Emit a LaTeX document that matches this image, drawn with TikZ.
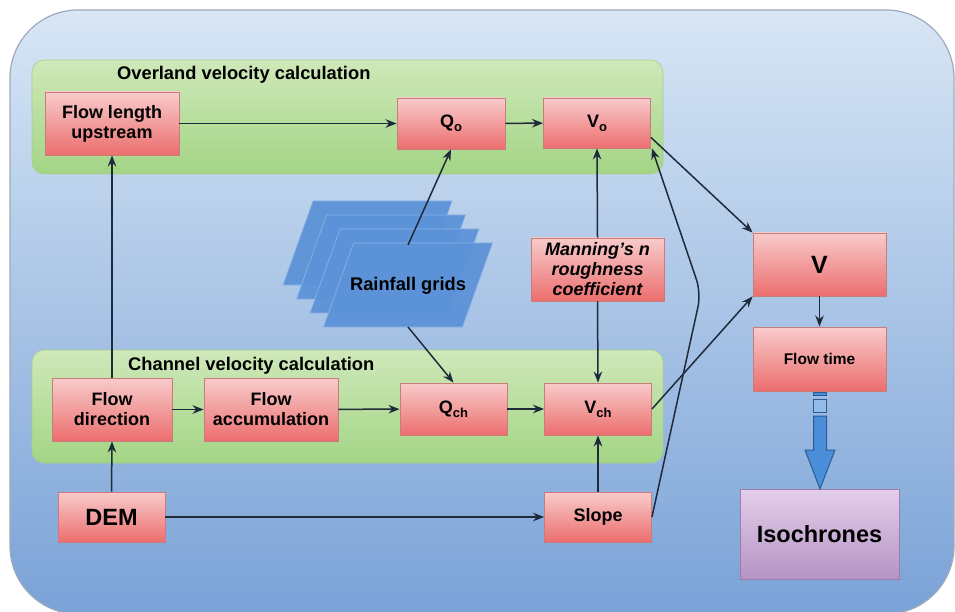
\documentclass[tikz,border=0pt]{standalone}
\usepackage{fontspec}
\setmainfont{Liberation Sans}
\usetikzlibrary{arrows.meta}
\definecolor{bgtop}{HTML}{D8E6F5}
\definecolor{bgbot}{HTML}{7AA2D7}
\definecolor{bgline}{HTML}{9DAABB}
\definecolor{grtop}{HTML}{CFE8B9}
\definecolor{grbot}{HTML}{A3D585}
\definecolor{grline}{HTML}{A5CF8C}
\definecolor{rdtop}{HTML}{F8CBCB}
\definecolor{rdbot}{HTML}{EC6E6E}
\definecolor{rdline}{HTML}{C97C7C}
\definecolor{pptop}{HTML}{E4CFEA}
\definecolor{ppbot}{HTML}{B593C4}
\definecolor{ppline}{HTML}{9E7DAC}
\definecolor{sheet}{HTML}{5C93D8}
\definecolor{sheetline}{HTML}{8AB2E4}
\definecolor{arrc}{HTML}{1F2A3B}
\definecolor{blk}{HTML}{4A8DD8}
\definecolor{blkline}{HTML}{2C5C94}
\newcommand{\mysub}[1]{\raisebox{-0.4ex}{\fontsize{13}{13}\selectfont #1}}
\begin{document}
\begin{tikzpicture}[x=1pt,y=-1pt,
  redbox/.style={draw=rdline, line width=0.9pt, top color=rdtop, bottom color=rdbot,
    font=\bfseries\fontsize{18}{20}\selectfont, align=center, inner sep=0pt, text=black},
  purplebox/.style={draw=ppline, line width=0.9pt, top color=pptop, bottom color=ppbot,
    font=\bfseries\fontsize{23.5}{26}\selectfont, align=center, inner sep=0pt},
  greenbox/.style={draw=grline, line width=0.6pt, top color=grtop, bottom color=grbot,
    rounded corners=12pt, inner sep=0pt},
  titletext/.style={font=\bfseries\fontsize{18.3}{20}\selectfont, anchor=west, inner sep=0pt},
  arr/.style={draw=arrc, line width=1.5pt, -{Stealth[length=11pt,width=8.5pt]}},
  sheetshape/.style={fill=sheet, draw=sheetline, line width=0.7pt, fill opacity=0.95}
]
\useasboundingbox (0,0) rectangle (955,612);
\fill[white] (0,0) rectangle (955,612);
% background
\path[draw=bgline, line width=1.2pt, top color=bgtop, bottom color=bgbot, rounded corners=68pt]
  (10,10) rectangle (954,614);

% green containers
\node[greenbox, minimum width=631pt, minimum height=114pt] (ov) at (347.5,117) {};
\node[greenbox, minimum width=631pt, minimum height=113pt] (ch) at (347.5,406.5) {};
\node[titletext] (ovt) at (117,75) {Overland velocity calculation};
\node[titletext] (cht) at (128,366) {Channel velocity calculation};

% rainfall sheets
\foreach \k in {0,1,2,3}{
  \path[sheetshape] ({313+13.5*\k},{201+14*\k}) -- ({452+13.5*\k},{201+14*\k})
     -- ({422+13.5*\k},{285+14*\k}) -- ({283+13.5*\k},{285+14*\k}) -- cycle;
}
\node[font=\bfseries\fontsize{18.3}{20}\selectfont, inner sep=0pt] (rain) at (408,286) {Rainfall grids};
\coordinate (rtop) at (408,245);
\coordinate (rbot) at (408,327);

% boxes
\node[redbox, minimum width=134pt, minimum height=63pt] (fl) at (112,123.5) {Flow length\\upstream};
\node[redbox, minimum width=108pt, minimum height=51pt] (qo) at (451,123.5) {Q\mysub{o}};
\node[redbox, minimum width=107pt, minimum height=50pt] (vo) at (597,123) {V\mysub{o}};
\node[redbox, minimum width=120pt, minimum height=63pt] (fd) at (112,409.5) {Flow\\direction};
\node[redbox, minimum width=134pt, minimum height=63pt] (fa) at (271,409.5) {Flow\\accumulation};
\node[redbox, minimum width=107pt, minimum height=52pt] (qch) at (453.5,409) {Q\mysub{ch}};
\node[redbox, minimum width=107pt, minimum height=52pt] (vch) at (598,409) {V\mysub{ch}};
\node[redbox, minimum width=107pt, minimum height=50pt, font=\bfseries\fontsize{23.5}{26}\selectfont] (dem) at (111.5,517) {DEM};
\node[redbox, minimum width=107pt, minimum height=50pt] (slope) at (598,517) {Slope};
\node[redbox, minimum width=133pt, minimum height=63pt, font=\bfseries\itshape\fontsize{18}{20}\selectfont] (man) at (597.5,269.5) {Manning’s n\\roughness\\coefficient};
\node[redbox, minimum width=133pt, minimum height=63pt, font=\bfseries\fontsize{25}{28}\selectfont] (v) at (819.5,264.5) {V};
\node[redbox, minimum width=133pt, minimum height=64pt, font=\bfseries\fontsize{15.5}{18}\selectfont] (ft) at (819.5,359) {Flow time};
\node[purplebox, minimum width=159pt, minimum height=90pt] (iso) at (819.5,534) {Isochrones};

% connectors
\draw[arr] (fl) -- (qo);
\draw[arr] (qo) -- (vo);
\draw[arr] (rtop) -- (qo.south);
\draw[arr] (rbot) -- (qch.north);
\draw[arr] (fd.north) -- (fl.south);
\draw[arr] (dem.north) -- (fd.south);
\draw[arr] (fd) -- (fa);
\draw[arr] (fa) -- (qch);
\draw[arr] (qch) -- (vch);
\draw[arr] (dem) -- (slope);
\draw[arr] (slope.north) -- (vch.south);
\draw[arr] (man.north) -- (vo.south);
\draw[arr] (man.south) -- (vch.north);
\coordinate (bend) at (701,293);
\draw[arr, rounded corners=14pt] (slope.east) -- (bend) -- ([xshift=1pt]vo.south east);
\draw[arr] (vo.-15) -- (v.north west);
\draw[arr] (vch.east) -- (v.south west);
\draw[arr] (v.south) -- (ft.north);

% block arrow flow time -> isochrones
\path[fill=blk, draw=blkline, line width=1pt] (813.5,392) rectangle (826.5,395);
\path[fill=blk!60!white, draw=blkline, line width=1pt] (813.5,399) rectangle (826.5,412);
\path[fill=blk, draw=blkline, line width=1pt] (813.5,416) -- (826.5,416) -- (826.5,450)
  -- (835,450) -- (820,489) -- (805,450) -- (813.5,450) -- cycle;
\end{tikzpicture}
\end{document}
